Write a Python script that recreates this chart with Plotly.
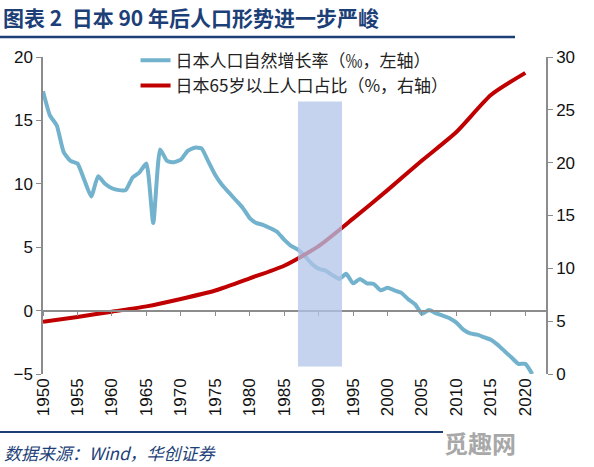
import plotly.graph_objects as go

# ---- data ----
years_rate = list(range(1950, 2022))
natural_growth = [17.3, 15.4, 14.6, 12.5, 11.8, 11.6, 10.3, 9.0, 10.6, 10.0,
                  9.65, 9.5, 9.5, 10.5, 10.9, 11.6, 6.9, 12.7, 11.8, 11.7,
                  11.9, 12.6, 12.85, 12.8, 11.75, 10.7, 9.9, 9.3, 8.7, 8.1,
                  7.3, 6.9, 6.75, 6.5, 6.2, 5.6, 5.1, 4.8, 4.3, 3.7,
                  3.3, 3.15, 2.8, 2.5, 2.9, 2.15, 2.5, 2.15, 2.1, 1.6,
                  1.8, 1.6, 1.4, 0.9, 0.5, -0.25, 0.05, -0.2, -0.4, -0.6,
                  -0.95, -1.5, -1.8, -1.9, -2.1, -2.3, -2.7, -3.2, -3.7, -4.2,
                  -4.2, -5.0]
years_aged = [1950, 1955, 1960, 1965, 1970, 1975, 1980, 1985, 1990, 1995,
              2000, 2005, 2010, 2015, 2020]
aged_share = [4.95, 5.4, 5.9, 6.4, 7.1, 7.9, 9.05, 10.25, 12.1, 14.7,
              17.4, 20.2, 22.9, 26.4, 28.5]
tick_years = list(range(1950, 2021, 5))
highlight_years = [1987, 1993.4]
highlight_left = [-4.4, 16.5]

name_rate = "日本人口自然增长率（‰，左轴）"
name_aged = "日本65岁以上人口占比（%，右轴）"
title_text = "图表 2  日本 90 年后人口形势进一步严峻"
source_text = "数据来源：Wind，华创证券"

BLUE = "#72b2cc"
RED = "#c00000"
AXIS = "#8c8c8c"
NAVY = "#1d3f78"
TICKFONT = dict(family="Liberation Sans, Arial", size=17, color="#111111")

fig = go.Figure()
fig.add_trace(go.Scatter(x=years_rate, y=natural_growth, name=name_rate,
                         mode="lines", line=dict(color=BLUE, width=4, shape="spline", smoothing=0.5),
                         yaxis="y"))
fig.add_trace(go.Scatter(x=years_aged, y=aged_share, name=name_aged,
                         mode="lines", line=dict(color=RED, width=4, shape="spline", smoothing=0.6),
                         yaxis="y2"))
# invisible carrier for the zero-crossing category axis
fig.add_trace(go.Scatter(x=years_rate, y=natural_growth, xaxis="x2", yaxis="y",
                         mode="lines", line=dict(width=0), opacity=0,
                         showlegend=False, hoverinfo="skip"))

fig.add_shape(type="rect", xref="x", yref="y",
              x0=highlight_years[0], x1=highlight_years[1],
              y0=highlight_left[0], y1=highlight_left[1],
              fillcolor="rgb(178,196,232)", opacity=0.75, line=dict(width=0), layer="above")

xr = [1950, 2023]
fig.update_layout(
    width=594, height=467,
    margin=dict(l=43, r=48, t=57, b=93),
    paper_bgcolor="white", plot_bgcolor="white",
    showlegend=True,
    legend=dict(x=0.184, y=1.045, xanchor="left", yanchor="top",
                bgcolor="rgba(0,0,0,0)",
                font=dict(family="Noto Sans CJK SC", size=17, color="#222222"),
                tracegroupgap=0, itemwidth=30),
    xaxis=dict(range=xr, tickvals=tick_years, tickangle=-90, showline=False,
               ticks="", showgrid=False, zeroline=False, tickfont=TICKFONT,
               domain=[0, 1]),
    xaxis2=dict(range=xr, tickvals=tick_years, overlaying="x", anchor="free", position=0.2,
                showline=True, linecolor=AXIS, linewidth=1.5, ticks="outside", ticklen=5,
                tickcolor=AXIS, showticklabels=False, showgrid=False, zeroline=False),
    yaxis=dict(range=[-5, 20], dtick=5, showline=True, linecolor=AXIS, linewidth=1.5,
               ticks="outside", ticklen=5, tickcolor=AXIS, showgrid=False, zeroline=False,
               tickfont=TICKFONT),
    yaxis2=dict(range=[0, 30], dtick=5, overlaying="y", side="right", showline=True,
                linecolor=AXIS, linewidth=1.5, ticks="outside", ticklen=5, tickcolor=AXIS,
                showgrid=False, zeroline=False, tickfont=TICKFONT),
)

# title, rules, source
fig.add_annotation(text="<b>" + title_text + "</b>", xref="paper", yref="paper",
                   x=-42/503, y=1 + 40/317, xanchor="left", yanchor="middle", showarrow=False,
                   font=dict(family="Noto Sans CJK SC", size=21, color=NAVY))
fig.add_shape(type="line", xref="paper", yref="paper", x0=-43/503, x1=472/503,
              y0=1 + 20/317, y1=1 + 20/317, line=dict(color=NAVY, width=2.5))
fig.add_shape(type="line", xref="paper", yref="paper", x0=-43/503, x1=400/503,
              y0=-58/317, y1=-58/317, line=dict(color=NAVY, width=2))
fig.add_annotation(text="<i>" + source_text + "</i>", xref="paper", yref="paper",
                   x=-41/503, y=-78/317, xanchor="left", yanchor="middle", showarrow=False,
                   font=dict(family="Noto Sans CJK SC", size=17, color=NAVY))
fig.add_annotation(text="<b>觅趣网</b>", xref="paper", yref="paper",
                   x=437/503, y=-68/317, xanchor="center", yanchor="middle", showarrow=False,
                   font=dict(family="Noto Sans CJK SC", size=24, color="#a8a8a8"))

fig.write_html("out.html", config={"displayModeBar": False},
               post_script="document.body.style.margin='0px';document.body.style.overflow='hidden';")
